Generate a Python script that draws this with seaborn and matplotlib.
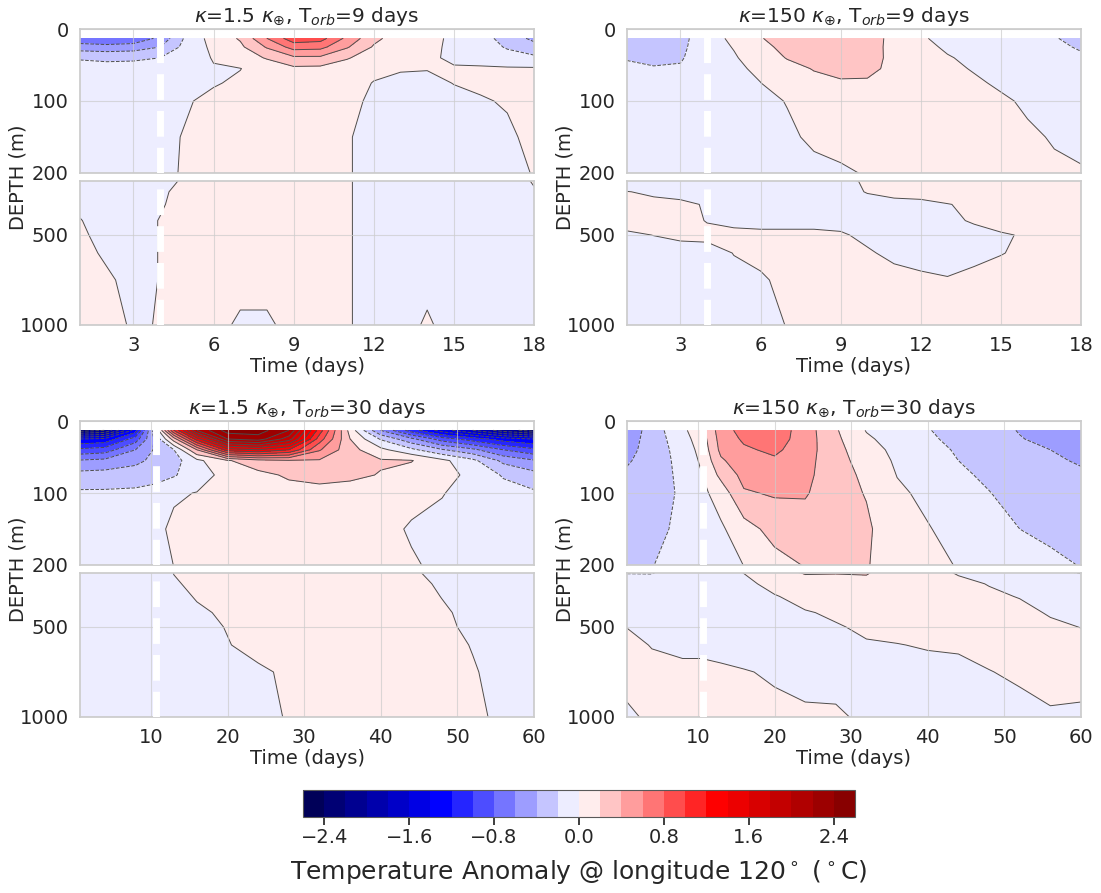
import matplotlib
matplotlib.use("Agg")
import matplotlib.pyplot as plt
import numpy as np
import seaborn as sns

# model depths (m) and output times (days)
DEPTH = [13, 25, 40, 55, 75, 100, 150, 200, 260, 330, 420, 500, 600, 750, 1000]
TIME_T9 = [1, 2, 3, 4, 5, 6, 7, 8, 9, 10, 11, 12, 13, 14, 15, 16, 17, 18]
TIME_T30 = [0.75, 4, 8, 10.5, 13, 16, 20, 24, 28, 32, 36, 40, 44, 48, 52, 56, 60]

# temperature anomaly (deg C), one row per depth, one column per time
ANOM_K15_T9 = [
    [-0.75, -0.8, -0.75, -0.55, -0.15, 0.08, 0.22, 0.6, 0.92, 0.88, 0.55, 0.25, 0.1, 0.08, -0.05, -0.12, -0.28, -0.45],
    [-0.5, -0.52, -0.5, -0.4, -0.12, 0.04, 0.16, 0.42, 0.68, 0.66, 0.42, 0.18, 0.07, 0.05, -0.04, -0.1, -0.22, -0.32],
    [-0.22, -0.24, -0.23, -0.2, -0.08, 0.01, 0.08, 0.22, 0.36, 0.36, 0.22, 0.08, 0.03, 0.02, -0.02, -0.06, -0.12, -0.16],
    [-0.12, -0.13, -0.13, -0.11, -0.04, -0.01, -0.003, 0.06, 0.16, 0.15, 0.08, 0.03, 0.01, 0.005, 0.01, 0.02, 0.02, 0.02],
    [-0.05, -0.05, -0.05, -0.04, -0.03, -0.01, 0.02, 0.05, 0.07, 0.07, 0.05, -0.005, -0.03, -0.03, 0.003, 0.02, 0.03, 0.04],
    [-0.05, -0.05, -0.05, -0.04, -0.01, 0.03, 0.04, 0.05, 0.05, 0.05, 0.03, -0.02, -0.04, -0.05, -0.03, -0.01, 0.01, 0.03],
    [-0.04, -0.05, -0.05, -0.03, 0.01, 0.03, 0.04, 0.04, 0.04, 0.03, 0.01, -0.04, -0.05, -0.05, -0.04, -0.03, -0.02, 0.03],
    [-0.03, -0.04, -0.04, -0.02, 0.01, 0.03, 0.03, 0.03, 0.03, 0.03, 0.01, -0.04, -0.05, -0.05, -0.04, -0.03, -0.03, 0.005],
    [-0.02, -0.03, -0.03, -0.01, 0.02, 0.03, 0.03, 0.03, 0.03, 0.03, 0.01, -0.04, -0.05, -0.05, -0.04, -0.03, -0.03, -0.005],
    [-0.01, -0.02, -0.02, -0.005, 0.02, 0.03, 0.03, 0.03, 0.03, 0.03, 0.01, -0.04, -0.05, -0.05, -0.04, -0.03, -0.03, -0.02],
    [0.002, -0.02, -0.02, 0.002, 0.02, 0.03, 0.03, 0.03, 0.03, 0.03, 0.01, -0.04, -0.05, -0.05, -0.04, -0.03, -0.03, -0.02],
    [0.01, -0.02, -0.02, 0.002, 0.02, 0.03, 0.03, 0.03, 0.03, 0.03, 0.01, -0.04, -0.05, -0.05, -0.04, -0.03, -0.03, -0.02],
    [0.02, -0.01, -0.02, 0.002, 0.02, 0.03, 0.03, 0.03, 0.03, 0.03, 0.01, -0.04, -0.05, -0.05, -0.04, -0.03, -0.03, -0.02],
    [0.03, 0.01, -0.02, 0.002, 0.02, 0.03, 0.02, 0.02, 0.03, 0.03, 0.01, -0.04, -0.04, -0.02, -0.04, -0.03, -0.03, -0.02],
    [0.02, 0.015, -0.005, 0.002, 0.02, 0.02, -0.01, -0.01, 0.02, 0.03, 0.01, -0.04, -0.03, 0.01, -0.03, -0.03, -0.03, -0.02],
]

ANOM_K150_T9 = [
    [-0.3, -0.3, -0.25, -0.1, 0.05, 0.19, 0.28, 0.32, 0.33, 0.28, 0.15, 0.02, -0.05, -0.08, -0.1, -0.12, -0.19, -0.25],
    [-0.27, -0.28, -0.24, -0.09, 0.01, 0.15, 0.25, 0.31, 0.32, 0.3, 0.13, 0.04, -0.02, -0.06, -0.09, -0.11, -0.16, -0.22],
    [-0.21, -0.23, -0.22, -0.08, -0.02, 0.1, 0.21, 0.28, 0.3, 0.29, 0.14, 0.06, 0.01, -0.03, -0.06, -0.09, -0.12, -0.17],
    [-0.17, -0.19, -0.18, -0.1, -0.03, 0.03, 0.14, 0.21, 0.25, 0.24, 0.16, 0.08, 0.03, -0.01, -0.04, -0.07, -0.1, -0.13],
    [-0.12, -0.12, -0.11, -0.08, -0.05, -0.002, 0.08, 0.15, 0.18, 0.18, 0.13, 0.08, 0.05, 0.02, -0.02, -0.05, -0.07, -0.1],
    [-0.1, -0.1, -0.1, -0.08, -0.06, -0.03, 0.005, 0.08, 0.1, 0.1, 0.1, 0.08, 0.06, 0.04, 0.02, -0.02, -0.04, -0.06],
    [-0.08, -0.08, -0.08, -0.07, -0.05, -0.04, -0.02, 0.02, 0.05, 0.06, 0.06, 0.06, 0.05, 0.04, 0.03, 0.02, -0.01, -0.03],
    [-0.05, -0.05, -0.05, -0.05, -0.04, -0.04, -0.03, -0.03, -0.02, 0.01, 0.03, 0.04, 0.04, 0.03, 0.03, 0.02, 0.02, 0.01],
    [0.002, -0.01, -0.02, -0.03, -0.03, -0.03, -0.03, -0.03, -0.02, 0.003, 0.02, 0.03, 0.03, 0.03, 0.03, 0.02, 0.02, 0.02],
    [0.02, 0.015, 0.012, -0.005, -0.02, -0.02, -0.02, -0.02, -0.02, -0.02, -0.02, -0.02, -0.002, 0.01, 0.02, 0.02, 0.02, 0.02],
    [0.025, 0.02, 0.015, -0.002, -0.01, -0.015, -0.015, -0.015, -0.015, -0.02, -0.02, -0.02, -0.01, 0.005, 0.02, 0.02, 0.02, 0.02],
    [-0.01, 0.001, 0.01, 0.01, 0.01, 0.01, 0.01, 0.01, 0.005, -0.01, -0.02, -0.02, -0.02, -0.015, -0.005, 0.005, 0.02, 0.02],
    [-0.03, -0.025, -0.02, -0.015, 0.001, 0.01, 0.02, 0.02, 0.02, 0.005, -0.01, -0.02, -0.02, -0.01, -0.002, 0.01, 0.02, 0.02],
    [-0.03, -0.03, -0.025, -0.02, -0.01, -0.005, 0.01, 0.02, 0.02, 0.02, 0.015, 0.01, 0.003, 0.01, 0.02, 0.02, 0.02, 0.02],
    [-0.03, -0.03, -0.03, -0.025, -0.02, -0.01, 0.001, 0.02, 0.02, 0.02, 0.02, 0.02, 0.02, 0.02, 0.02, 0.02, 0.02, 0.02],
]

ANOM_K15_T30 = [
    [-2.3, -2.2, -1.3, -0.25, 1.0, 2.0, 2.5, 2.5, 2.2, 1.1, 0.12, -0.6, -1.1, -1.5, -1.8, -2.1, -2.3],
    [-1.4, -1.35, -0.9, -0.38, 0.3, 1.3, 2.2, 2.3, 1.9, 0.9, 0.2, -0.22, -0.55, -0.9, -1.1, -1.3, -1.4],
    [-0.95, -0.9, -0.6, -0.38, -0.2, 0.4, 1.3, 1.4, 1.2, 0.62, 0.27, 0.05, -0.15, -0.38, -0.55, -0.8, -0.95],
    [-0.58, -0.55, -0.45, -0.35, -0.28, -0.05, 0.18, 0.33, 0.38, 0.38, 0.3, 0.22, 0.21, 0.05, -0.15, -0.45, -0.58],
    [-0.33, -0.32, -0.3, -0.25, -0.22, -0.08, 0.06, 0.14, 0.23, 0.26, 0.24, 0.19, 0.12, 0.07, -0.05, -0.22, -0.33],
    [-0.17, -0.17, -0.16, -0.15, -0.02, 0.005, 0.04, 0.08, 0.12, 0.14, 0.12, 0.06, 0.03, 0.005, -0.04, -0.12, -0.17],
    [-0.1, -0.1, -0.09, -0.04, 0.03, 0.04, 0.06, 0.07, 0.07, 0.07, 0.06, 0.03, -0.01, -0.03, -0.04, -0.06, -0.1],
    [-0.08, -0.08, -0.07, -0.03, 0.001, 0.03, 0.05, 0.05, 0.05, 0.05, 0.05, 0.03, 0.01, -0.02, -0.04, -0.05, -0.08],
    [-0.07, -0.07, -0.06, -0.03, -0.005, 0.01, 0.04, 0.05, 0.05, 0.05, 0.05, 0.04, 0.02, -0.01, -0.03, -0.05, -0.07],
    [-0.06, -0.06, -0.05, -0.04, -0.02, 0.005, 0.03, 0.04, 0.05, 0.05, 0.05, 0.04, 0.03, -0.002, -0.03, -0.04, -0.06],
    [-0.05, -0.05, -0.05, -0.04, -0.03, -0.01, 0.01, 0.03, 0.04, 0.04, 0.04, 0.04, 0.03, 0.01, -0.02, -0.04, -0.05],
    [-0.05, -0.05, -0.05, -0.04, -0.03, -0.02, 0.003, 0.02, 0.03, 0.04, 0.04, 0.04, 0.03, 0.01, -0.01, -0.03, -0.05],
    [-0.05, -0.05, -0.05, -0.04, -0.03, -0.02, -0.003, 0.02, 0.03, 0.04, 0.04, 0.04, 0.03, 0.02, -0.003, -0.03, -0.05],
    [-0.05, -0.05, -0.05, -0.04, -0.03, -0.02, -0.015, -0.01, 0.01, 0.03, 0.04, 0.04, 0.03, 0.02, 0.005, -0.02, -0.05],
    [-0.05, -0.05, -0.05, -0.04, -0.03, -0.03, -0.02, -0.02, 0.005, 0.03, 0.04, 0.04, 0.03, 0.02, 0.01, -0.01, -0.04],
]

ANOM_K150_T30 = [
    [-0.55, -0.3, -0.05, 0.15, 0.5, 0.68, 0.72, 0.5, 0.22, -0.01, -0.1, -0.19, -0.27, -0.33, -0.41, -0.48, -0.55],
    [-0.5, -0.31, -0.08, 0.1, 0.48, 0.63, 0.7, 0.5, 0.24, 0.03, -0.08, -0.17, -0.25, -0.31, -0.39, -0.45, -0.5],
    [-0.46, -0.32, -0.11, 0.06, 0.45, 0.57, 0.64, 0.49, 0.26, 0.08, -0.05, -0.14, -0.22, -0.29, -0.36, -0.4, -0.46],
    [-0.42, -0.32, -0.13, 0.03, 0.37, 0.52, 0.57, 0.47, 0.27, 0.12, -0.03, -0.11, -0.2, -0.26, -0.33, -0.37, -0.42],
    [-0.37, -0.31, -0.15, -0.005, 0.25, 0.46, 0.49, 0.45, 0.28, 0.16, -0.005, -0.08, -0.17, -0.23, -0.3, -0.34, -0.37],
    [-0.32, -0.29, -0.17, -0.05, 0.09, 0.38, 0.42, 0.42, 0.27, 0.19, 0.03, -0.04, -0.13, -0.195, -0.26, -0.3, -0.32],
    [-0.26, -0.25, -0.16, -0.1, -0.03, 0.12, 0.27, 0.3, 0.24, 0.23, 0.08, 0.01, -0.06, -0.12, -0.2, -0.23, -0.26],
    [-0.205, -0.205, -0.14, -0.1, -0.06, 0.002, 0.13, 0.21, 0.205, 0.21, 0.12, 0.05, -0.01, -0.06, -0.13, -0.17, -0.205],
    [-0.13, -0.15, -0.11, -0.09, -0.08, -0.04, 0.05, 0.14, 0.15, 0.16, 0.1, 0.07, 0.03, -0.005, -0.06, -0.11, -0.13],
    [-0.08, -0.1, -0.08, -0.07, -0.08, -0.07, -0.01, 0.05, 0.08, 0.1, 0.08, 0.07, 0.05, 0.02, -0.005, -0.06, -0.08],
    [-0.04, -0.06, -0.05, -0.05, -0.07, -0.07, -0.04, -0.01, 0.02, 0.05, 0.05, 0.05, 0.05, 0.04, 0.03, -0.01, -0.04],
    [-0.002, -0.03, -0.03, -0.03, -0.05, -0.06, -0.05, -0.03, -0.01, 0.02, 0.02, 0.03, 0.03, 0.04, 0.04, 0.02, -0.002],
    [0.03, -0.005, -0.01, -0.01, -0.02, -0.04, -0.04, -0.04, -0.03, -0.01, -0.002, 0.005, 0.01, 0.02, 0.03, 0.04, 0.03],
    [0.04, 0.03, 0.01, 0.01, 0.01, 0.005, -0.01, -0.02, -0.02, -0.02, -0.02, -0.02, -0.02, -0.002, 0.01, 0.03, 0.04],
    [-0.02, 0.02, 0.03, 0.03, 0.03, 0.03, 0.02, 0.01, 0.008, -0.01, -0.03, -0.03, -0.03, -0.02, -0.02, -0.01, -0.02],
]

TITLES = [r"$\kappa$=1.5 $\kappa_{\oplus}$, T$_{orb}$=9 days",
          r"$\kappa$=150 $\kappa_{\oplus}$, T$_{orb}$=9 days",
          r"$\kappa$=1.5 $\kappa_{\oplus}$, T$_{orb}$=30 days",
          r"$\kappa$=150 $\kappa_{\oplus}$, T$_{orb}$=30 days"]
DASH_DAY = [4, 4, 10.7, 10.7]
XTICKS_T9 = [3, 6, 9, 12, 15, 18]
XTICKS_T30 = [10, 20, 30, 40, 50, 60]
CBAR_TICKS = [-2.4, -1.6, -0.8, 0.0, 0.8, 1.6, 2.4]
LEVELS = np.linspace(-2.6, 2.6, 27)

sns.set_theme(style="whitegrid")
plt.rcParams["font.family"] = ["DejaVu Sans"]
FS = 14

fig = plt.figure(figsize=(11.01, 8.93), dpi=100)

W = 454 / 1101
H = 144 / 893
GAP = 8 / 893


def draw_panel(left, bottom, time, field, title, xticks, xlim, dash):
    z = np.array(field)
    ax_top = fig.add_axes([left, bottom + H + GAP, W, H])
    ax_bot = fig.add_axes([left, bottom, W, H])
    for ax in (ax_top, ax_bot):
        cf = ax.contourf(time, DEPTH, z, levels=LEVELS, cmap="seismic")
        ax.contour(time, DEPTH, z, levels=LEVELS, colors="0.3", linewidths=0.7)
        ax.axvline(dash, color="white", lw=5, ls="--", zorder=3)
        ax.set_xlim(xlim)
        ax.set_xticks(xticks)
        ax.set_axisbelow(False)
        ax.grid(True, color="0.8", lw=0.8, alpha=0.7)
        ax.tick_params(labelsize=FS, pad=2)
        for s in ax.spines.values():
            s.set_color("0.8")
    ax_top.set_ylim(200, 0)
    ax_top.set_yticks([0, 100, 200])
    ax_top.tick_params(labelbottom=False)
    ax_top.set_title(title, fontsize=14.5, pad=5)
    ax_bot.set_ylim(1000, 200)
    ax_bot.set_yticks([500, 1000])
    ax_bot.set_xlabel("Time (days)", fontsize=FS, labelpad=1)
    fig.text(left - 62 / 1101, bottom + H + GAP / 2, "DEPTH (m)", rotation=90,
             ha="center", va="center", fontsize=FS, color="0.15")
    return cf


LEFTS = [80 / 1101, 627 / 1101]
BOTTOMS = [1 - 325 / 893, 1 - 717 / 893]

draw_panel(LEFTS[0], BOTTOMS[0], TIME_T9, ANOM_K15_T9, TITLES[0], XTICKS_T9, (1, 18), DASH_DAY[0])
draw_panel(LEFTS[1], BOTTOMS[0], TIME_T9, ANOM_K150_T9, TITLES[1], XTICKS_T9, (1, 18), DASH_DAY[1])
draw_panel(LEFTS[0], BOTTOMS[1], TIME_T30, ANOM_K15_T30, TITLES[2], XTICKS_T30, (0.75, 60), DASH_DAY[2])
cf = draw_panel(LEFTS[1], BOTTOMS[1], TIME_T30, ANOM_K150_T30, TITLES[3], XTICKS_T30, (0.75, 60), DASH_DAY[3])

cax = fig.add_axes([303 / 1101, 1 - 817 / 893, 552 / 1101, 27 / 893])
cb = fig.colorbar(cf, cax=cax, orientation="horizontal", ticks=CBAR_TICKS)
cb.ax.tick_params(labelsize=FS, pad=2)
cb.outline.set_edgecolor("0.35")
cb.outline.set_linewidth(0.8)
cb.set_label(r"Temperature Anomaly @ longitude 120$^\circ$ ($^\circ$C)", fontsize=18, labelpad=8)

fig.savefig("out.png", dpi=100)
